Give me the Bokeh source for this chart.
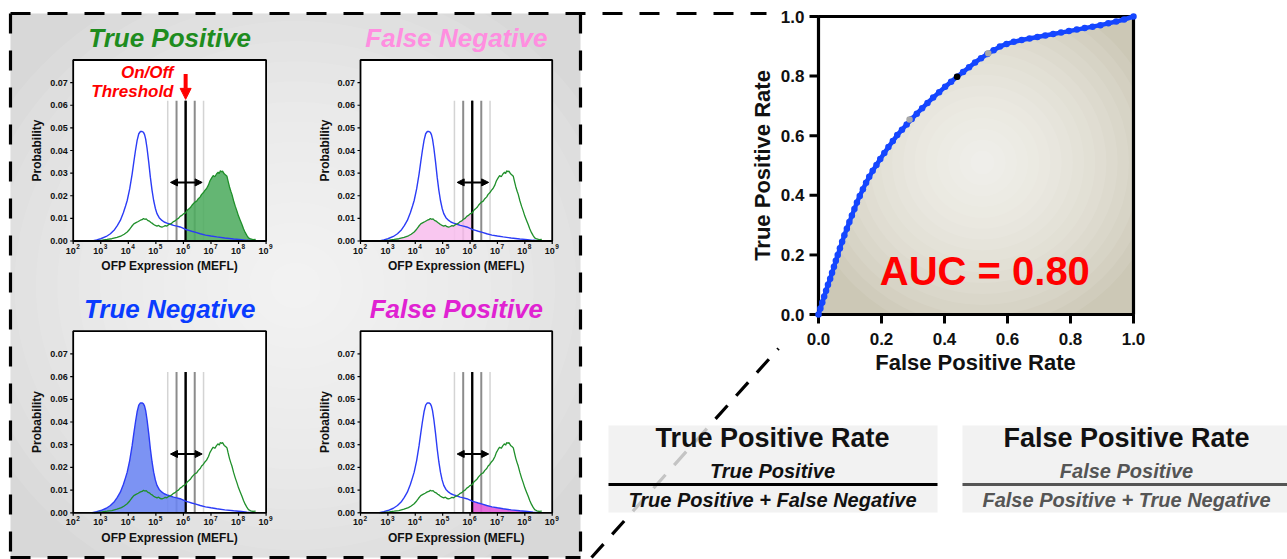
import numpy as np
from bokeh.plotting import figure
from bokeh.models import Range1d, LogScale, LinearScale, Arrow, NormalHead
from bokeh.core.properties import value
from bokeh.embed import file_html
from bokeh.resources import INLINE

# ---------------- data ----------------
# negative population (blue): bin position as log10(MEFL), probability in thousandths
neg_log_mefl = [2.69, 2.85, 3.00, 3.20, 3.35, 3.50, 3.60, 3.71, 3.82, 3.90,
                3.96, 4.05, 4.14, 4.20, 4.26, 4.32, 4.38, 4.44, 4.50, 4.55,
                4.59, 4.63, 4.68, 4.74, 4.80, 4.86, 4.92, 4.98, 5.04, 5.12,
                5.22, 5.30, 5.40, 5.50, 5.64, 5.76, 5.88, 6.00, 6.08, 6.20,
                6.30, 6.45, 6.61, 6.80, 7.00, 7.21, 7.50, 7.82, 8.10, 8.30, 8.55]
neg_prob_milli = [0.0, 0.5, 1.0, 2.0, 3.2, 5.0, 6.8, 9.1, 12.5, 15.5,
                  17.9, 23.0, 29.7, 35.0, 40.0, 44.5, 47.4, 48.4, 48.4, 48.0,
                  47.0, 45.0, 41.0, 35.0, 28.2, 22.5, 17.9, 14.5, 12.1, 10.3,
                  9.1, 8.4, 7.9, 7.5, 6.9, 6.6, 6.2, 5.6, 5.1, 4.7,
                  4.3, 3.8, 3.2, 2.6, 2.2, 1.8, 1.3, 0.9, 0.6, 0.3, 0.1]
# positive population (green)
pos_log_mefl = [2.75, 2.90, 3.05, 3.23, 3.40, 3.59, 3.75, 3.85, 3.96, 4.05,
                4.12, 4.20, 4.28, 4.36, 4.44, 4.50, 4.55, 4.60, 4.65, 4.70,
                4.76, 4.82, 4.86, 4.92, 4.98, 5.04, 5.10, 5.16, 5.22, 5.28,
                5.34, 5.40, 5.46, 5.52, 5.58, 5.64, 5.70, 5.76, 5.82, 5.88,
                5.94, 6.00, 6.08, 6.14, 6.20, 6.26, 6.31, 6.36, 6.42, 6.48,
                6.54, 6.61, 6.66, 6.72, 6.78, 6.84, 6.91, 6.96, 7.02, 7.08,
                7.14, 7.20, 7.26, 7.30, 7.34, 7.38, 7.42, 7.48, 7.53, 7.58,
                7.62, 7.67, 7.72, 7.76, 7.82, 7.88, 7.94, 8.00, 8.06, 8.12,
                8.18, 8.24, 8.30, 8.36, 8.44, 8.52, 8.62]
pos_prob_milli = [0.0, 0.2, 0.4, 0.7, 1.0, 1.6, 2.3, 3.0, 4.0, 5.2,
                  6.4, 7.6, 8.1, 8.6, 9.2, 9.4, 9.9, 9.6, 9.8, 9.1,
                  8.8, 8.2, 7.9, 7.3, 6.9, 6.6, 6.9, 6.3, 6.1, 6.4,
                  6.8, 6.6, 7.2, 7.5, 7.9, 8.6, 8.9, 9.6, 10.0, 10.9,
                  11.3, 12.0, 12.4, 13.6, 14.2, 14.9, 15.8, 16.5, 17.2, 17.6,
                  18.7, 19.5, 20.6, 21.3, 22.4, 23.2, 24.8, 26.5, 27.8, 28.9,
                  28.4, 29.6, 30.4, 29.8, 31.0, 30.6, 30.9, 29.7, 29.2, 28.6,
                  26.5, 24.0, 22.0, 20.6, 17.8, 15.4, 13.3, 11.0, 9.2, 7.4,
                  5.4, 3.8, 2.5, 1.4, 0.9, 0.6, 0.7]
threshold_log = 6.08
band_log = [5.43, 5.75, 6.08, 6.41, 6.73]
band_top = 0.062
sweep_log = [5.53, 6.68]
sweep_level = 0.0259

hist_yticks = [0.00, 0.01, 0.02, 0.03, 0.04, 0.05, 0.06, 0.07]
hist_ytick_labels = ["0.00", "0.01", "0.02", "0.03", "0.04", "0.05", "0.06", "0.07"]
hist_xtick_exp = [2, 3, 4, 5, 6, 7, 8, 9]

panel_keys = ["tp", "fn", "tn", "fp"]
panel_titles = ["True Positive", "False Negative", "True Negative", "False Positive"]

# ROC curve
fpr = [0.000, 0.006, 0.012, 0.018, 0.024, 0.030, 0.037, 0.043, 0.049, 0.055,
       0.061, 0.068, 0.075, 0.082, 0.090, 0.098, 0.106, 0.114, 0.122, 0.131,
       0.141, 0.151, 0.161, 0.172, 0.184, 0.196, 0.209, 0.222, 0.236, 0.250,
       0.265, 0.280, 0.296, 0.312, 0.329, 0.346, 0.364, 0.383, 0.402, 0.421,
       0.440, 0.459, 0.478, 0.497, 0.516, 0.536, 0.556, 0.576, 0.597, 0.620,
       0.645, 0.670, 0.695, 0.720, 0.745, 0.770, 0.795, 0.820, 0.845, 0.870,
       0.895, 0.920, 0.945, 0.970, 1.000]
tpr = [0.000, 0.020, 0.040, 0.060, 0.080, 0.100, 0.120, 0.140, 0.160, 0.180,
       0.200, 0.222, 0.244, 0.266, 0.288, 0.310, 0.332, 0.354, 0.376, 0.398,
       0.420, 0.442, 0.462, 0.482, 0.502, 0.522, 0.542, 0.562, 0.582, 0.602,
       0.620, 0.638, 0.656, 0.674, 0.692, 0.710, 0.728, 0.746, 0.764, 0.781,
       0.798, 0.814, 0.830, 0.846, 0.860, 0.874, 0.887, 0.899, 0.908, 0.915,
       0.921, 0.926, 0.931, 0.936, 0.941, 0.946, 0.951, 0.956, 0.961, 0.966,
       0.971, 0.977, 0.983, 0.990, 1.000]
marked_fpr = [0.289, 0.440, 0.539]
marked_tpr = [0.654, 0.798, 0.877]
marked_colors = ["#a8a8a8", "#000000", "#a8a8a8"]
auc_value = 0.80
roc_ticks = [0.0, 0.2, 0.4, 0.6, 0.8, 1.0]
roc_tick_labels = ["0.0", "0.2", "0.4", "0.6", "0.8", "1.0"]

# ---------------- canvas ----------------
W, H = 1287, 559
X0, X1, Y0, Y1 = 0.0, 0.0 + W, 0.0, 0.0 + H
FONT = value("Liberation Sans")

p = figure(width=W, height=H, x_range=Range1d(X0, X1), y_range=Range1d(Y1, Y0),
           x_axis_type=None, y_axis_type=None, toolbar_location=None,
           output_backend="svg", min_border=0, outline_line_color=None,
           background_fill_color="white", border_fill_color="white")

xr, yr, xs = {}, {}, {}


def register(name, xa, xb, yt, yb, xlo, xhi, ylo, yhi, logx):
    if logx:
        a, b = np.log10(xlo), np.log10(xhi)
        k = (b - a) / (xb - xa)
        xr[name] = Range1d(start=10 ** (a + (X0 - xa) * k), end=10 ** (a + (X1 - xa) * k))
        xs[name] = LogScale()
    else:
        k = (xhi - xlo) / (xb - xa)
        xr[name] = Range1d(start=xlo + (X0 - xa) * k, end=xlo + (X1 - xa) * k)
        xs[name] = LinearScale()
    ky = (yhi - ylo) / (yb - yt)
    yr[name] = Range1d(start=ylo + (yb - Y1) * ky, end=ylo + (yb - Y0) * ky)


col_px = [(72.7, 265.6), (360.0, 551.7)]
row_px = [(59.5, 240.5), (330.7, 512.3)]
panel_geom = {"tp": (col_px[0], row_px[0]), "fn": (col_px[1], row_px[0]),
              "tn": (col_px[0], row_px[1]), "fp": (col_px[1], row_px[1])}
for k_, ((xa, xb), (yt, yb)) in panel_geom.items():
    register(k_, xa, xb, yt, yb, 1e2, 1e9, 0.0, 0.08, True)
ROC_PX = (818.0, 1133.0, 16.0, 314.0)
register("roc", ROC_PX[0], ROC_PX[1], ROC_PX[2], ROC_PX[3], 0.0, 1.0, 0.0, 1.0, False)
p.extra_x_ranges = xr
p.extra_y_ranges = yr
p.extra_x_scales = xs

# ---------------- left grey panel ----------------
p.quad(left=[10], right=[580], top=[13], bottom=[557], fill_color="#d8d8d8", line_color=None)
ng = 16
p.ellipse(x=[295] * ng, y=[285] * ng, width=np.linspace(690, 50, ng), height=np.linspace(650, 46, ng),
          fill_color="white", fill_alpha=0.085, line_color=None)

# dashed connectors / border
dash = dict(line_color="black", line_width=3.2, line_dash="20 17")
p.line([10, 10], [13, 557], **dash)
p.line([10, 766], [13, 13], **dash)
p.line([580, 580], [13, 557], **dash)
p.line([10, 580], [557, 557], **dash)
p.line([591, 778], [557, 348], line_color="black", line_width=3.2, line_dash="18 13")

# ---------------- histogram panels ----------------
neg_x = 10 ** np.array(neg_log_mefl)
neg_y = np.array(neg_prob_milli) / 1000.0
pos_x = 10 ** np.array(pos_log_mefl)
pos_y = np.array(pos_prob_milli) / 1000.0
neg_e = np.array(neg_log_mefl)
pos_e = np.array(pos_log_mefl)

BLUE = "#2b3cf6"
GREEN = "#1f8f2a"
title_colors = {"tp": "#1e8c1e", "fn": "#ff8ee0", "tn": "#0a3cff", "fp": "#e022d2"}
fill_spec = {"tp": ("pos", "above", "#4fac60"), "fn": ("pos", "below", "#f8bfee"),
             "tn": ("neg", "below", "#6a84f1"), "fp": ("neg", "above", "#e258d8")}
band_colors = ["#d4d4d4", "#8c8c8c", "#000000", "#8c8c8c", "#d4d4d4"]
band_widths = [1.5, 2.0, 2.0, 2.0, 1.5]
thr_x = 10 ** threshold_log

for key, title in zip(panel_keys, panel_titles):
    (xa, xb), (yt, yb) = panel_geom[key]
    rn = dict(x_range_name=key, y_range_name=key)
    dec_px = (xb - xa) / 7.0
    ppu = (yb - yt) / 0.08
    p.quad(left=[1e2], right=[1e9], bottom=[0], top=[0.08], fill_color="white", line_color=None, **rn)

    bx = 10 ** np.array(band_log)
    p.segment(x0=bx, x1=bx, y0=[0] * 5, y1=[band_top] * 5, line_color=band_colors,
              line_width=band_widths, **rn)

    pop, side, fcol = fill_spec[key]
    ex, xx, yy = (pos_e, pos_x, pos_y) if pop == "pos" else (neg_e, neg_x, neg_y)
    m = ex >= threshold_log - 1e-9 if side == "above" else ex <= threshold_log + 1e-9
    p.varea(x=xx[m], y1=np.zeros(m.sum()), y2=yy[m], fill_color=fcol, fill_alpha=0.88, **rn)
    p.segment(x0=[thr_x], x1=[thr_x], y0=[0], y1=[band_top], line_color="black", line_width=2, **rn)

    p.line(neg_x, neg_y, line_color=BLUE, line_width=1.4, **rn)
    p.line(pos_x, pos_y, line_color=GREEN, line_width=1.3, **rn)

    p.add_layout(Arrow(start=NormalHead(size=7, fill_color="black", line_color="black"),
                       end=NormalHead(size=7, fill_color="black", line_color="black"),
                       x_start=10 ** sweep_log[0], y_start=sweep_level,
                       x_end=10 ** sweep_log[1], y_end=sweep_level,
                       line_color="black", line_width=2, **rn))

    p.quad(left=[1e2], right=[1e9], bottom=[0], top=[0.08], fill_color=None,
           line_color="black", line_width=1.8, **rn)

    # ticks
    tl = 3.0
    p.segment(x0=[1e2] * 8, x1=[10 ** (2 - tl / dec_px)] * 8, y0=hist_yticks, y1=hist_yticks,
              line_color="black", line_width=1.2, **rn)
    xt = [10.0 ** e for e in hist_xtick_exp]
    p.segment(x0=xt, x1=xt, y0=[0] * 8, y1=[-tl / ppu] * 8, line_color="black", line_width=1.2, **rn)
    p.text(x=[1e2] * 8, y=hist_yticks, text=hist_ytick_labels, x_offset=-5.5,
           text_align="right", text_baseline="middle", text_font=FONT, text_font_style="bold",
           text_font_size="9px", text_color="#111111", **rn)
    p.text(x=xt, y=[0] * 8, text=["10"] * 8, x_offset=-2.5, y_offset=9.5,
           text_align="center", text_baseline="middle", text_font=FONT, text_font_style="bold",
           text_font_size="9px", text_color="#111111", **rn)
    p.text(x=xt, y=[0] * 8, text=[str(e) for e in hist_xtick_exp], x_offset=3.0, y_offset=5.5,
           text_align="left", text_baseline="middle", text_font=FONT, text_font_style="bold",
           text_font_size="6.5px", text_color="#111111", **rn)

    # axis titles and panel title (layout positions in canvas px)
    p.text(x=[xa - 36], y=[(yt + yb) / 2], text=["Probability"], angle=np.pi / 2,
           text_align="center", text_baseline="middle", text_font=FONT, text_font_style="bold",
           text_font_size="12px", text_color="#111111")
    p.text(x=[(xa + xb) / 2], y=[yb + 25], text=["OFP Expression (MEFL)"],
           text_align="center", text_baseline="middle", text_font=FONT, text_font_style="bold",
           text_font_size="12px", text_color="#111111")
    p.text(x=[(xa + xb) / 2], y=[yt - 22.5], text=[title],
           text_align="center", text_baseline="middle", text_font=FONT, text_font_style="bold italic",
           text_font_size="26px", text_color=title_colors[key])

# On/Off threshold annotation (TP panel)
p.text(x=[10 ** 5.64, 10 ** 5.64], y=[0.0744, 0.0662], text=["On/Off", "Threshold"],
       text_align="right", text_baseline="middle", text_font=FONT, text_font_style="bold italic",
       text_font_size="17px", text_color="#ff0000", x_range_name="tp", y_range_name="tp")
p.add_layout(Arrow(start=None, end=NormalHead(size=11, fill_color="#ff0000", line_color="#ff0000"),
                   x_start=thr_x, y_start=0.0738, x_end=thr_x, y_end=0.0626,
                   line_color="#ff0000", line_width=4, x_range_name="tp", y_range_name="tp"))

# ---------------- ROC panel ----------------
rr = dict(x_range_name="roc", y_range_name="roc")
p.quad(left=[0], right=[1], bottom=[0], top=[1], fill_color="white", line_color=None, **rr)
p.varea(x=fpr, y1=[0] * len(fpr), y2=tpr, fill_color="#ccc8b6", **rr)
nr = 16
p.ellipse(x=[982] * nr, y=[162] * nr, width=np.linspace(360, 24, nr), height=np.linspace(350, 24, nr),
          fill_color="white", fill_alpha=0.085, line_color=None)
p.quad(left=[0], right=[1], bottom=[0], top=[1], fill_color=None, line_color="black", line_width=3.2, **rr)
rtl = 9.0
p.segment(x0=[0] * 6, x1=[-rtl / (ROC_PX[1] - ROC_PX[0])] * 6, y0=roc_ticks, y1=roc_ticks,
          line_color="black", line_width=3, **rr)
p.segment(x0=roc_ticks, x1=roc_ticks, y0=[0] * 6, y1=[-rtl / (ROC_PX[3] - ROC_PX[2])] * 6,
          line_color="black", line_width=3, **rr)
p.text(x=[0] * 6, y=roc_ticks, text=roc_tick_labels, x_offset=-14, text_align="right",
       text_baseline="middle", text_font=FONT, text_font_style="bold", text_font_size="17px",
       text_color="#111111", **rr)
p.text(x=roc_ticks, y=[0] * 6, text=roc_tick_labels, y_offset=24, text_align="center",
       text_baseline="middle", text_font=FONT, text_font_style="bold", text_font_size="17px",
       text_color="#111111", **rr)
ROC_BLUE = "#1546ff"
p.line(fpr, tpr, line_color=ROC_BLUE, line_width=4.5, **rr)
p.scatter(fpr, tpr, size=6.5, fill_color=ROC_BLUE, line_color=None, **rr)
p.scatter(marked_fpr, marked_tpr, size=6.5, fill_color=marked_colors, line_color=None, **rr)
p.text(x=[0.528], y=[0.145], text=["AUC = %.2f" % auc_value], text_align="center",
       text_baseline="middle", text_font=FONT, text_font_style="bold", text_font_size="40px",
       text_color="#ff0000", **rr)
p.text(x=[762], y=[165], text=["True Positive Rate"], angle=np.pi / 2, text_align="center",
       text_baseline="middle", text_font=FONT, text_font_style="bold", text_font_size="22px",
       text_color="#111111")
p.text(x=[975], y=[362], text=["False Positive Rate"], text_align="center",
       text_baseline="middle", text_font=FONT, text_font_style="bold", text_font_size="22px",
       text_color="#111111")

# ---------------- formula boxes ----------------
p.quad(left=[608, 962], right=[937, 1290], top=[425, 425], bottom=[512, 512],
       fill_color="#efefef", fill_alpha=0.82, line_color=None)
p.segment(x0=[608, 962], x1=[937, 1290], y0=[484, 484], y1=[484, 484],
          line_color=["#000000", "#555555"], line_width=3)
p.text(x=[772, 1126], y=[437, 437], text=["True Positive Rate", "False Positive Rate"],
       text_align="center", text_baseline="middle", text_font=FONT, text_font_style="bold",
       text_font_size="27px", text_color="#111111")
p.text(x=[772, 1126], y=[470, 470], text=["True Positive", "False Positive"],
       text_align="center", text_baseline="middle", text_font=FONT, text_font_style="bold italic",
       text_font_size="20px", text_color=["#111111", "#555555"])
p.text(x=[772, 1126], y=[499, 499],
       text=["True Positive + False Negative", "False Positive + True Negative"],
       text_align="center", text_baseline="middle", text_font=FONT, text_font_style="bold italic",
       text_font_size="20px", text_color=["#111111", "#555555"])

open("out.html", "w").write(file_html(p, INLINE))
